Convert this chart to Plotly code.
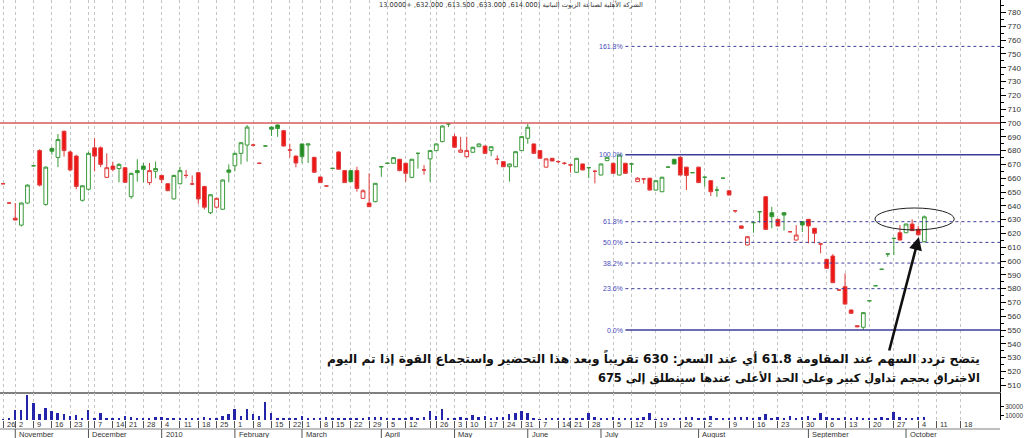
import plotly.graph_objects as go

# ---------------- data ----------------
opens = [656, 642, 631, 626, 642, 669, 680, 641, 681.5, 675, 694, 679, 676, 644, 652, 682, 682, 660.6, 668.8, 667,
         667.6, 646.6, 665.5, 668.8, 656.8, 665, 662, 656, 645, 656, 662, 655.8, 664, 654, 635, 639, 637.5, 666, 669, 678,
         684, 684, 670.8, 683.3, 697, 698.5, 694.4, 680.4, 676, 684.8, 684, 675.1, 660.9, 654.3, 667.1, 679, 665.5, 665.5, 665.5, 645.4,
         642, 643, 668.3, 670.8, 670.8, 673.7, 670.8, 660.6, 678, 666, 674, 680, 686.5, 699.3, 690.1, 678.8, 675.6, 678.8, 682.8, 683.3,
         680, 673.7, 672, 668.3, 668.3, 680, 688.9, 684.8, 680, 668, 674.4, 672, 670.8, 669.6, 664.3, 670.3, 667.6, 665, 662.3, 672.7,
         670.8, 662.3, 670.8, 670.3, 657.5, 659.5, 660, 651.4, 650.2, 668, 673.7, 675.1, 668, 664, 668, 660.7, 658.2, 651.4, 660, 650.9,
         636.4, 625.4, 611.6, 627.8, 635.7, 646.6, 635, 630.2, 635, 621.2, 615.2, 628.5, 630.2, 623.7, 612.3, 601.2, 603.6, 579, 581.4, 564.5,
         553.1, 552, 571.2, 582.1, 594, 605.1, 616.4, 620.5, 620.5, 626.8, 623, 614]
highs = [656.5, 642.5, 642, 642.5, 655.5, 669.5, 681, 668.5, 682.5, 692, 694.5, 680, 677, 655, 679, 689, 683, 678, 672, 671,
         668, 664, 673.7, 671, 671, 672, 662.5, 656.5, 662.5, 668.3, 666, 662, 664.5, 654.5, 648.5, 646, 659, 670, 678.5, 686,
         698.5, 685, 671.3, 683.8, 697.5, 699, 695, 685, 676.5, 685, 685, 675.5, 661, 654.8, 667.6, 679.5, 666, 666, 668.3, 652,
         663.5, 656.5, 668.8, 671.3, 675.3, 674, 671, 674, 678.5, 669.5, 680.5, 685.2, 698.2, 699.6, 692, 690, 690, 682.8, 685.2, 683.6,
         683, 676.5, 672.3, 670.6, 679.5, 690.4, 699.3, 685.1, 680.3, 674.3, 674.7, 673, 671.8, 670, 674.7, 670.6, 668, 666, 670.6, 675.4,
         671.1, 677.1, 671.1, 670.6, 660.8, 660, 660.3, 658.5, 661, 668.3, 674, 676.1, 668.3, 664.3, 668.3, 661, 658.5, 654, 660.3, 651.2,
         636.7, 625.7, 617.9, 628.1, 636, 646.9, 639.3, 630.5, 635.3, 621.5, 626, 628.8, 630.5, 624, 612.6, 601.5, 605, 579.3, 591, 564.8,
         553.4, 562.9, 571.5, 582.4, 594.3, 605.4, 616.7, 626, 627.1, 630.2, 625.4, 633]
lows = [655.5, 641.5, 629.5, 625, 641.5, 668.5, 654, 640, 677, 668, 675.6, 665, 652, 643, 651, 665, 668, 660, 665, 657,
        656.5, 645, 657.5, 657, 655, 660, 656.5, 650.5, 644.5, 655.5, 660, 655, 641.5, 637.4, 634, 638, 637, 657, 665, 670,
        672, 683, 670.3, 682.8, 690.6, 690, 683, 675, 667.9, 670.8, 671, 664, 656.5, 653.8, 666.6, 666, 656.5, 657, 650.2, 645,
        639, 642.5, 661, 670.3, 670.3, 665, 657.5, 660, 667, 662.5, 657.5, 679.5, 686, 697, 682, 678.5, 675, 678.5, 682.5, 677.7,
        676, 670, 668, 657.5, 668, 679.7, 685, 677.7, 674, 667.7, 672.2, 671, 669.8, 664, 664, 665.7, 660, 656.3, 662, 672.4,
        663.2, 662, 663.2, 664, 657.2, 656, 651.1, 651.1, 649.9, 667.7, 670, 662, 651.4, 663.7, 656.5, 654, 647.1, 646.5, 659.7, 647.5,
        635, 623.4, 611.3, 620.5, 627.8, 622.6, 623.7, 625.1, 622, 620.9, 614.9, 621, 612.8, 612.8, 605.6, 594.4, 584, 578.7, 568.5, 561.8,
        552.1, 550, 570.9, 581.8, 593.7, 603, 604.3, 614.9, 620.2, 621.7, 618.7, 613.5]
closes = [656, 642, 629.7, 642, 655, 669, 655, 668, 679.5, 688, 680, 666, 654, 654.5, 678, 676, 670, 667.6, 666.4, 670,
          657, 663.5, 664, 666.4, 665.5, 667, 659, 651, 662, 665.5, 662, 655.8, 645, 639, 648, 645.4, 658.7, 664.3, 678, 685.7,
          697, 684, 670.8, 683.3, 695.5, 696, 683.3, 680.4, 671, 675.6, 684.8, 664.3, 656.8, 654.3, 667.1, 666.5, 656.8, 657.5, 652.6, 650.9,
          639.4, 656.3, 668.3, 670.8, 674.9, 665.5, 663.5, 673.7, 678, 666, 680, 684.8, 697.8, 699.3, 682.4, 680.4, 680, 682.4, 684.8, 678,
          682.8, 673.7, 668.3, 670.3, 679.2, 690.1, 696.9, 678, 674.4, 674, 672.5, 672, 670.8, 669.6, 674.4, 666, 667.6, 665, 670.3, 675.1,
          663.5, 676.8, 663.5, 670.3, 660, 659.5, 651.4, 658.2, 660.7, 668, 670.3, 662.3, 662, 664, 656.8, 660.7, 650.2, 651.4, 660, 647.8,
          636.4, 623.7, 617.6, 627.8, 635.7, 622.9, 632.1, 625.4, 633.3, 621.2, 618.8, 626.1, 625.4, 620.1, 612.3, 594.7, 584.3, 579, 568.8, 562.1,
          552.4, 562.6, 571.2, 582.1, 594, 605.1, 616.4, 615.2, 626.8, 622, 619, 632]
volumes = [2000, 5000, 22000, 22000, 55000, 37000, 12600, 26000, 20000, 16000, 12600, 10000, 12000, 3000, 22000, 3000, 15000, 3000, 3700, 3000,
           9000, 6000, 3000, 3000, 3000, 6000, 7400, 3000, 3000, 3000, 3000, 3000, 5000, 7400, 3000, 3000, 9000, 12600, 25000, 9000,
           25000, 13000, 9000, 41000, 16000, 3000, 3000, 3000, 3000, 10000, 3000, 3000, 3000, 7400, 5000, 3000, 3000, 3000, 5000, 3000,
           6000, 7400, 7400, 3000, 3000, 3000, 5000, 7400, 3000, 6000, 20000, 9000, 25000, 3000, 3000, 7400, 3000, 11000, 7400, 10000,
           3000, 6000, 7400, 12600, 16000, 20700, 16000, 3000, 2000, 3000, 3000, 3000, 5000, 3000, 3000, 3000, 16000, 6000, 3000, 3000,
           6000, 3000, 3000, 3000, 3000, 6000, 16000, 2000, 3000, 3000, 3000, 3000, 6000, 6000, 3000, 3000, 9000, 3000, 3000, 3000,
           6000, 7400, 6000, 3000, 7400, 13000, 3000, 6000, 3000, 9000, 3000, 7400, 9000, 3000, 15000, 6000, 3000, 3000, 6000, 3000,
           7400, 3000, 3000, 3000, 6000, 3000, 18000, 6000, 3000, 3000, 6000, 7400]

week_days = ["26", "2", "9", "16", "23", "30", "7", "14", "21", "28", "4", "11", "18", "25", "1", "8", "15", "22",
             "1", "8", "15", "22", "29", "5", "12", "19", "26", "3", "10", "17", "24", "31", "7", "14", "21", "28",
             "5", "12", "19", "26", "2", "9", "16", "23", "30", "6", "13", "20", "27", "4", "11", "18"]
week_idx = [0, 2, 5, 8, 11, 14, 15, 18, 20, 23, 26, 29, 32, 35, 38, 41, 44, 47,
            49, 52, 54, 57, 60, 63, 66, 70, 71, 74, 76, 79, 82, 85, 88, 91, 93, 96,
            100, 103, 107, 111, 115, 119, 123, 127, 131, 135, 138, 142, 146, 150, 153, 157]
month_names = ["November", "December", "2010", "February", "March", "April", "May", "June",
               "July", "August", "September", "October"]
month_idx = [2, 14, 26, 38, 49, 62, 74, 86, 98, 114, 132, 148]

price_ticks = list(range(510, 790, 10))
volume_ticks = [10000, 30000]
resistance_level = 700
fib_low, fib_high = 550.0, 677.0
fib_ratios = [0.0, 0.236, 0.382, 0.5, 0.618, 1.0, 1.618]
fib_labels = ["0.0%", "23.6%", "38.2%", "50.0%", "61.8%", "100.0%", "161.8%"]

title_text = "الشركة الأهلية لصناعة الزيوت النباتية (614.000, 633.000, 613.500, 632.000, +13.0000"
note_line1 = "يتضح تردد السهم عند المقاومة 61.8 أي عند السعر: 630 تقريباً وبعد هذا التحضير واستجماع القوة إذا تم اليوم"
note_line2 = "الاختراق بحجم تداول كبير وعلى الحد الأعلى عندها سينطلق إلى 675"

# ---------------- styling constants ----------------
GREEN = "#3a9a3a"
GREEN_FILL = "#1f8a1f"
RED = "#e03a3a"
RED_FILL = "#ee1515"
FIB_COLOR = "#3d3d99"
GRID = "#c4c4c4"
X_MAX = 163.4
X_MIN = -0.5
H_PLOT = 420.0  # plot-area height in pixels (used to place paper-referenced text)

n = len(closes)
xs = list(range(n))
up = [i for i in xs if (closes[i] > closes[i - 1] if i > 0 else closes[i] > opens[i])]
down = [i for i in xs if i not in up]


def pick(arr, idx):
    return [arr[i] for i in idx]


def py(pix):
    """pixel row (from top of figure) -> paper y"""
    return (H_PLOT - pix) / H_PLOT


fig = go.Figure()
for idx, col, fill in [(up, GREEN, GREEN_FILL), (down, RED, RED_FILL)]:
    fig.add_trace(go.Candlestick(
        x=idx, open=pick(opens, idx), high=pick(highs, idx), low=pick(lows, idx), close=pick(closes, idx),
        increasing=dict(line=dict(color=col, width=1), fillcolor="white"),
        decreasing=dict(line=dict(color=col, width=1), fillcolor=fill),
        whiskerwidth=0, xaxis="x", yaxis="y", showlegend=False, hoverinfo="skip"))

fig.add_trace(go.Bar(x=xs, y=volumes, width=0.32, marker=dict(color="#2424a8", line=dict(width=0)),
                     xaxis="x2", yaxis="y2", showlegend=False, hoverinfo="skip"))

shapes = []
annotations = []

# resistance line
shapes.append(dict(type="line", xref="paper", x0=0, x1=1, yref="y", y0=resistance_level, y1=resistance_level,
                   line=dict(color="#d85a5a", width=1.5)))

# fibonacci levels
fib_x0 = 102
for r, lab in zip(fib_ratios, fib_labels):
    lvl = fib_low + r * (fib_high - fib_low)
    solid = r in (0.0, 1.0)
    shapes.append(dict(type="line", xref="x", x0=fib_x0, x1=X_MAX, yref="y", y0=lvl, y1=lvl,
                       line=dict(color=FIB_COLOR, width=1.4 if solid else 1, dash="solid" if solid else "3px,3px")))
    annotations.append(dict(x=fib_x0 - 0.1, y=lvl, xref="x", yref="y", text=lab, showarrow=False,
                            xanchor="right", yanchor="middle",
                            font=dict(family="Liberation Sans", size=7, color="#4a4ab8")))

# ellipse around the consolidation
shapes.append(dict(type="circle", xref="x", yref="y", x0=142.9, x1=155.9, y0=622.5, y1=638.4,
                   line=dict(color="#202020", width=1)))

# arrow
annotations.append(dict(x=150.1, y=617.4, xref="x", yref="y", ax=-30, ay=115, text="", showarrow=True,
                        arrowhead=2, arrowsize=1, arrowwidth=2.6, arrowcolor="#111111"))

# commentary text (two lines)
for txt, row, size in [(note_line1, 358, 12.2), (note_line2, 378, 11.4)]:
    annotations.append(dict(x=0.982, y=py(row), xref="paper", yref="paper",
                            text="<b>\u202b" + txt + "\u202c</b>",
                            showarrow=False, xanchor="right", yanchor="middle", align="right",
                            font=dict(family="DejaVu Sans", size=size, color="#111111")))

# title
annotations.append(dict(x=0.511, y=py(5), xref="paper", yref="paper", text="\u202b" + title_text + "\u202c",
                        showarrow=False, xanchor="center", yanchor="middle",
                        font=dict(family="DejaVu Sans", size=6.6, color="#333333")))

# day labels (drop a label when the next week tick is too close to fit it)
for k, (d, i) in enumerate(zip(week_days, week_idx)):
    nxt = week_idx[k + 1] if k + 1 < len(week_idx) else i + 4
    if nxt - i < 2:
        continue
    annotations.append(dict(x=i + 0.25, y=py(424.5), xref="x2", yref="paper", text=d, showarrow=False,
                            xanchor="left", yanchor="middle",
                            font=dict(family="Liberation Sans", size=7.5, color="#333333")))

# month row
y_row_top = py(429)
y_row_bot = py(438)
shapes.append(dict(type="line", xref="paper", x0=0, x1=1, yref="paper", y0=y_row_top, y1=y_row_top,
                   line=dict(color="#808080", width=1)))
for name, i in zip(month_names, month_idx):
    shapes.append(dict(type="line", xref="x2", x0=i, x1=i, yref="paper", y0=y_row_top, y1=y_row_bot,
                       line=dict(color="#555555", width=1)))
    annotations.append(dict(x=i + 0.3, y=py(434), xref="x2", yref="paper", text=name, showarrow=False,
                            xanchor="left", yanchor="middle",
                            font=dict(family="Liberation Sans", size=7.5, color="#333333")))

tickfont = dict(family="Liberation Sans", size=8, color="#333333")
main_dom = [py(392), 1]
vol_dom = [0, py(393)]

fig.update_layout(
    width=1024, height=438,
    margin=dict(l=0, r=24, t=0, b=18),
    paper_bgcolor="white", plot_bgcolor="white",
    boxgap=0.12,
    bargap=0,
    showlegend=False,
    shapes=shapes,
    annotations=annotations,
    xaxis=dict(domain=[0, 1], anchor="y", range=[X_MIN, X_MAX], tickvals=week_idx, showticklabels=False,
               ticks="", showgrid=True, gridcolor=GRID, griddash="3px,3px", gridwidth=1,
               showline=True, linecolor="#808080", linewidth=1.5, zeroline=False,
               rangeslider=dict(visible=False), automargin=False),
    yaxis=dict(domain=main_dom, anchor="x", range=[505.1, 789.1], side="right", tickvals=price_ticks,
               ticks="outside", ticklen=5, tickcolor="#000000", showline=True, linecolor="#000000", linewidth=1,
               showgrid=False, zeroline=False, tickfont=tickfont, automargin=False,
               minor=dict(tickvals=[p + 5 for p in price_ticks], ticks="outside", ticklen=3, tickcolor="#000000")),
    xaxis2=dict(domain=[0, 1], anchor="y2", matches="x", range=[X_MIN, X_MAX], tickvals=week_idx,
                showticklabels=False, ticks="outside", ticklen=7, tickcolor="#555555",
                showgrid=True, gridcolor=GRID, griddash="3px,3px", gridwidth=1,
                showline=False, zeroline=False, rangeslider=dict(visible=False), automargin=False),
    yaxis2=dict(domain=vol_dom, anchor="x2", range=[0, 60000], side="right", tickvals=volume_ticks,
                ticktext=[f"{v:d}" for v in volume_ticks], ticks="outside", ticklen=3, tickcolor="#000000",
                showline=True, linecolor="#000000", linewidth=1, showgrid=False, zeroline=False,
                tickfont=dict(family="Liberation Sans", size=6.4, color="#333333"), automargin=False),
)

fig.write_html("out.html", config={"displayModeBar": False},
               post_script="document.body.style.margin='0px';document.body.style.overflow='hidden';")
